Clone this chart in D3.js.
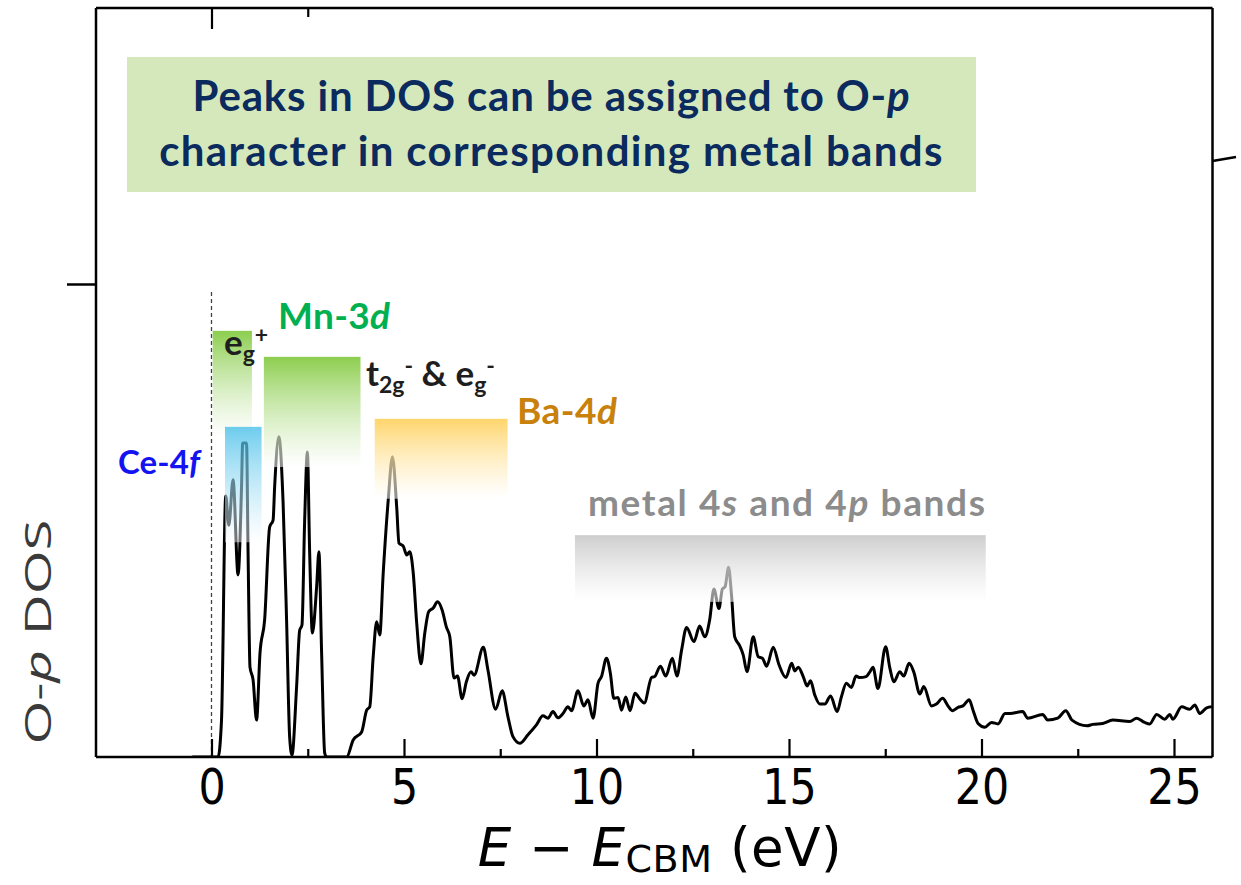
<!DOCTYPE html>
<html>
<head>
<meta charset="utf-8">
<script src="https://cdn.jsdelivr.net/npm/d3@7"></script>
<style>
  html, body { margin: 0; padding: 0; background: #fff; }
  svg { display: block; }
</style>
</head>
<body>
<svg id="chart" width="1241" height="885"></svg>
<script>
// O-p projected density of states vs. energy above the conduction-band minimum
const energy = [
  -0.50, 0.17, 0.26, 0.37, 0.45, 0.56, 0.69, 0.78, 0.81, 0.91, 0.95, 1.00, 1.08, 1.17,
  1.26, 1.38, 1.51, 1.60, 1.64, 1.75, 1.86, 1.95, 2.03, 2.09, 2.21, 2.29, 2.35, 2.42,
  2.49, 2.55, 2.62, 2.73, 2.79, 2.86, 2.94, 2.99, 3.51, 3.68, 3.90, 4.03, 4.11, 4.20,
  4.29, 4.37, 4.46, 4.59, 4.70, 4.81, 4.87, 4.98, 5.07, 5.15, 5.24, 5.33, 5.44, 5.54,
  5.64, 5.76, 5.87, 5.99, 6.10, 6.19, 6.30, 6.39, 6.51, 6.62, 6.74, 6.82, 7.06, 7.18,
  7.38, 7.55, 7.70, 7.83, 8.01, 8.22, 8.44, 8.61, 8.74, 8.87, 9.00, 9.13, 9.26, 9.35,
  9.52, 9.67, 9.78, 9.91, 10.04, 10.13, 10.26, 10.36, 10.45, 10.56, 10.65, 10.76, 10.87,
  11.00, 11.13, 11.24, 11.43, 11.51, 11.66, 11.80, 11.97, 12.09, 12.21, 12.34, 12.53,
  12.68, 12.81, 12.94, 13.05, 13.18, 13.27, 13.34, 13.43, 13.51, 13.59, 13.72, 13.81,
  13.91, 14.07, 14.20, 14.31, 14.42, 14.59, 14.74, 14.92, 15.07, 15.15, 15.24, 15.37,
  15.47, 15.56, 15.67, 15.80, 15.93, 16.08, 16.25, 16.36, 16.49, 16.62, 16.74, 16.84,
  17.00, 17.10, 17.18, 17.31, 17.51, 17.62, 17.72, 17.88, 17.98, 18.12, 18.24, 18.40,
  18.50, 18.70, 18.83, 18.99, 19.13, 19.25, 19.39, 19.52, 19.68, 19.78, 19.91, 20.09,
  20.26, 20.43, 20.61, 20.74, 21.07, 21.20, 21.59, 21.72, 21.98, 22.19, 22.35, 22.74,
  22.89, 23.15, 23.41, 23.85, 24.03, 24.24, 24.37, 24.55, 24.76, 24.89, 24.97, 25.20,
  25.41, 25.54, 25.67, 25.85, 25.98
];
const opDOS = [
  0.000, 0.000, 0.078, 0.552, 0.490, 0.586, 0.385, 0.571, 0.664, 0.664, 0.431, 0.190, 0.163, 0.078,
  0.220, 0.290, 0.486, 0.501, 0.571, 0.677, 0.537, 0.290, 0.042, 0.004, 0.148, 0.268, 0.279, 0.501,
  0.645, 0.431, 0.262, 0.359, 0.434, 0.220, 0.008, 0.000, 0.000, 0.036, 0.053, 0.099, 0.106, 0.212,
  0.286, 0.258, 0.389, 0.543, 0.635, 0.529, 0.452, 0.446, 0.427, 0.434, 0.389, 0.283, 0.197, 0.262,
  0.307, 0.315, 0.328, 0.311, 0.275, 0.254, 0.167, 0.171, 0.123, 0.159, 0.180, 0.173, 0.232, 0.184,
  0.101, 0.140, 0.085, 0.043, 0.029, 0.047, 0.068, 0.087, 0.082, 0.096, 0.083, 0.092, 0.106, 0.098,
  0.140, 0.108, 0.121, 0.082, 0.156, 0.170, 0.209, 0.177, 0.124, 0.126, 0.099, 0.127, 0.098,
  0.135, 0.122, 0.114, 0.168, 0.170, 0.192, 0.171, 0.209, 0.171, 0.226, 0.274, 0.244,
  0.277, 0.254, 0.290, 0.355, 0.314, 0.355, 0.360, 0.401, 0.339, 0.254, 0.235, 0.216,
  0.180, 0.254, 0.212, 0.209, 0.192, 0.232, 0.195, 0.168, 0.198, 0.182, 0.190, 0.170,
  0.150, 0.161, 0.131, 0.112, 0.112, 0.129, 0.096, 0.127, 0.156, 0.147, 0.171, 0.168,
  0.170, 0.180, 0.190, 0.145, 0.233, 0.188, 0.159, 0.180, 0.171, 0.198, 0.180, 0.133,
  0.149, 0.108, 0.112, 0.124, 0.108, 0.098, 0.105, 0.108, 0.121, 0.099, 0.071, 0.063,
  0.073, 0.070, 0.092, 0.092, 0.096, 0.082, 0.090, 0.078, 0.082, 0.098, 0.078, 0.066,
  0.069, 0.071, 0.078, 0.075, 0.082, 0.073, 0.070, 0.090, 0.080, 0.090, 0.080, 0.106,
  0.101, 0.110, 0.092, 0.104, 0.106
];

// Axis ticks
const majorTicks = [0, 5, 10, 15, 20, 25];
const minorTicks = [2.5, 7.5, 12.5, 17.5, 22.5];
const topTicks = [0];
const topMinorTicks = [2.5];
const leftTicks = [1.0];

// Energy windows of the orbital characters (eV) and the DOS span they shade
const bandNames  = ["eg+", "Mn t2g-/eg-", "Ce-4f", "Ba-4d", "metal 4s/4p"];
const bandStart  = [0.03, 1.36, 0.35, 4.24, 9.44];
const bandEnd    = [1.05, 3.87, 1.30, 7.69, 20.11];
const bandLow    = [0.677, 0.613, 0.454, 0.546, 0.328];
const bandHigh   = [0.901, 0.846, 0.698, 0.715, 0.469];
const bandColors = ["green", "green", "blue", "orange", "gray"];

const svg = d3.select("#chart");
const plot = { left: 96, right: 1212.5, top: 8, bottom: 757 };

const x = d3.scaleLinear().domain([-3, 26]).range([plot.left, plot.right]);
const y = d3.scaleLinear().domain([0, 1.5835]).range([plot.bottom, plot.top]);

// Stretch a text to a given width by spreading its letters
function fitWidth(sel, target) {
  const node = sel.node();
  const w = node.getComputedTextLength();
  const n = node.textContent.length;
  if (n > 1) sel.attr("letter-spacing", ((target - w) / (n - 1)).toFixed(2));
}

// Gradients for the shaded energy windows
const defs = svg.append("defs");
const grads = {
  green:  { top: "#86cb45", topOp: 0.95, botOp: 0.55 },
  blue:   { top: "#3cbbe8", topOp: 0.75, botOp: 0.45 },
  orange: { top: "#ffd15c", topOp: 0.9,  botOp: 0.55 },
  gray:   { top: "#c8c8c8", topOp: 0.9,  botOp: 0.55 }
};
Object.entries(grads).forEach(([k, g]) => {
  const lg = defs.append("linearGradient").attr("id", "g-" + k)
    .attr("x1", 0).attr("y1", 0).attr("x2", 0).attr("y2", 1);
  lg.append("stop").attr("offset", "0%").attr("stop-color", g.top).attr("stop-opacity", g.topOp);
  lg.append("stop").attr("offset", "100%").attr("stop-color", "#ffffff").attr("stop-opacity", g.botOp);
});
defs.append("clipPath").attr("id", "plotclip").append("rect")
  .attr("x", plot.left).attr("y", plot.top)
  .attr("width", plot.right - plot.left).attr("height", plot.bottom - plot.top);

// Title box
svg.append("rect").attr("x", 127).attr("y", 57).attr("width", 849).attr("height", 135)
  .attr("fill", "#d4e8bb");
const titleText = (py) => svg.append("text").attr("x", 551.5).attr("y", py).attr("text-anchor", "middle")
  .attr("font-family", "Lato, 'Open Sans', sans-serif").attr("font-weight", 700)
  .attr("font-size", 42).attr("fill", "#0b2a5e");
const t1 = titleText(111);
t1.append("tspan").text("Peaks in DOS can be assigned to O-");
t1.append("tspan").attr("font-style", "italic").text("p");
fitWidth(t1, 717);
const t2 = titleText(166).text("character in corresponding metal bands");
fitWidth(t2, 783);

// Zero-energy reference (CBM)
svg.append("line")
  .attr("x1", x(0)).attr("x2", x(0)).attr("y1", 292).attr("y2", plot.bottom)
  .attr("stroke", "#444").attr("stroke-width", 1.3).attr("stroke-dasharray", "4,3");

// DOS curve
const pts = energy.map((e, i) => [e, opDOS[i]]);
const line = d3.line().x(d => x(d[0])).y(d => y(d[1])).curve(d3.curveMonotoneX);
svg.append("path").datum(pts)
  .attr("d", line).attr("fill", "none").attr("stroke", "#000")
  .attr("stroke-width", 3).attr("stroke-linejoin", "round")
  .attr("clip-path", "url(#plotclip)");

// Shaded orbital windows drawn over the curve
const bandData = bandNames.map((n, i) => ({
  name: n, e0: bandStart[i], e1: bandEnd[i], lo: bandLow[i], hi: bandHigh[i], c: bandColors[i]
}));
svg.append("g").selectAll("rect").data(bandData).join("rect")
  .attr("x", d => x(d.e0)).attr("width", d => x(d.e1) - x(d.e0))
  .attr("y", d => y(d.hi)).attr("height", d => y(d.lo) - y(d.hi))
  .attr("fill", d => "url(#g-" + d.c + ")");

// Axes frame
const frame = svg.append("g").attr("stroke", "#000").attr("stroke-width", 2.5).attr("fill", "none");
frame.append("line").attr("x1", plot.left).attr("x2", plot.right).attr("y1", plot.bottom).attr("y2", plot.bottom);
frame.append("line").attr("x1", plot.left).attr("x2", plot.right).attr("y1", plot.top).attr("y2", plot.top);
frame.append("line").attr("x1", plot.left).attr("x2", plot.left).attr("y1", plot.top).attr("y2", plot.bottom);
frame.append("line").attr("x1", plot.right).attr("x2", plot.right).attr("y1", plot.top).attr("y2", plot.bottom);

// Bottom ticks (inward)
const xAxisMajor = d3.axisBottom(x).tickValues(majorTicks).tickSizeInner(-18).tickSizeOuter(0).tickFormat(d3.format("d"));
const gx = svg.append("g").attr("transform", `translate(0,${plot.bottom})`).call(xAxisMajor);
gx.select(".domain").remove();
gx.selectAll(".tick line").attr("stroke", "#000").attr("stroke-width", 2.2);
gx.selectAll(".tick text").attr("font-family", "'DejaVu Sans', sans-serif").attr("font-size", 46)
  .attr("fill", "#000").attr("y", 0).attr("dy", 0)
  .attr("transform", "translate(0,47) scale(0.93,1.1)");
const xAxisMinor = d3.axisBottom(x).tickValues(minorTicks).tickSizeInner(-8).tickSizeOuter(0).tickFormat("");
const gxm = svg.append("g").attr("transform", `translate(0,${plot.bottom})`).call(xAxisMinor);
gxm.select(".domain").remove();
gxm.selectAll(".tick line").attr("stroke", "#000").attr("stroke-width", 2.2);

// Top ticks (inward)
const gt = svg.append("g").attr("transform", `translate(0,${plot.top})`)
  .call(d3.axisTop(x).tickValues(topTicks).tickSizeInner(-21).tickSizeOuter(0).tickFormat(""));
gt.select(".domain").remove();
gt.selectAll(".tick line").attr("stroke", "#000").attr("stroke-width", 2.2);
const gtm = svg.append("g").attr("transform", `translate(0,${plot.top})`)
  .call(d3.axisTop(x).tickValues(topMinorTicks).tickSizeInner(-9).tickSizeOuter(0).tickFormat(""));
gtm.select(".domain").remove();
gtm.selectAll(".tick line").attr("stroke", "#000").attr("stroke-width", 2.2);

// Left tick (outward)
const gl = svg.append("g").attr("transform", `translate(${plot.left},0)`)
  .call(d3.axisLeft(y).tickValues(leftTicks).tickSizeInner(29).tickSizeOuter(0).tickFormat(""));
gl.select(".domain").remove();
gl.selectAll(".tick line").attr("stroke", "#000").attr("stroke-width", 2.5);

// Small outward mark on the right edge
svg.append("line").attr("x1", plot.right).attr("y1", 161).attr("x2", 1236).attr("y2", 157)
  .attr("stroke", "#000").attr("stroke-width", 2.3);

// Axis titles
const xl = svg.append("text").attr("x", 660).attr("y", 866).attr("text-anchor", "middle")
  .attr("font-family", "'DejaVu Sans', sans-serif").attr("font-size", 53).attr("fill", "#000");
xl.append("tspan").attr("font-style", "italic").text("E");
xl.append("tspan").text(" \u2212 ");
xl.append("tspan").attr("font-style", "italic").text("E");
xl.append("tspan").attr("font-size", 38).attr("dy", 6).text("CBM");
xl.append("tspan").attr("dy", -6).text(" (eV)");
fitWidth(xl, 364);

const yl = svg.append("text").attr("transform", "translate(51,632) rotate(-90)")
  .attr("text-anchor", "middle").attr("font-family", "'Open Sans', sans-serif")
  .attr("font-size", 37).attr("fill", "#3a3a3a")
  .attr("textLength", 225).attr("lengthAdjust", "spacingAndGlyphs");
yl.append("tspan").text("O-");
yl.append("tspan").attr("font-style", "italic").text("p");
yl.append("tspan").text(" DOS");

// Band labels
const lab = (px, py, size, color) => svg.append("text").attr("x", px).attr("y", py)
  .attr("font-family", "Lato, 'Open Sans', sans-serif").attr("font-weight", 700)
  .attr("font-size", size).attr("fill", color);

const mn = lab(278, 329, 37, "#00b050");
mn.append("tspan").text("Mn-3");
mn.append("tspan").attr("font-style", "italic").text("d");
fitWidth(mn, 112);

const eg = lab(224, 355, 35, "#1e1e1e");
eg.append("tspan").text("e");
eg.append("tspan").attr("font-size", 23).attr("dy", 7).text("g");
eg.append("tspan").attr("font-size", 23).attr("dy", -19).text("+");

const tg = lab(366, 386, 35, "#1e1e1e");
tg.append("tspan").text("t");
tg.append("tspan").attr("font-size", 23).attr("dy", 7).text("2g");
tg.append("tspan").attr("font-size", 23).attr("dy", -19).text("-");
tg.append("tspan").attr("dy", 12).text(" & e");
tg.append("tspan").attr("font-size", 23).attr("dy", 7).text("g");
tg.append("tspan").attr("font-size", 23).attr("dy", -19).text("-");

const ba = lab(517, 424, 37, "#c8820c");
ba.append("tspan").text("Ba-4");
ba.append("tspan").attr("font-style", "italic").text("d");
fitWidth(ba, 100);

const ce = lab(118, 474, 33, "#1414f0");
ce.append("tspan").text("Ce-4");
ce.append("tspan").attr("font-style", "italic").text("f");
fitWidth(ce, 82);

const mt = lab(588, 516, 37, "#8c8c8c");
mt.append("tspan").text("metal 4");
mt.append("tspan").attr("font-style", "italic").text("s");
mt.append("tspan").text(" and 4");
mt.append("tspan").attr("font-style", "italic").text("p");
mt.append("tspan").text(" bands");
fitWidth(mt, 397);
</script>
</body>
</html>
